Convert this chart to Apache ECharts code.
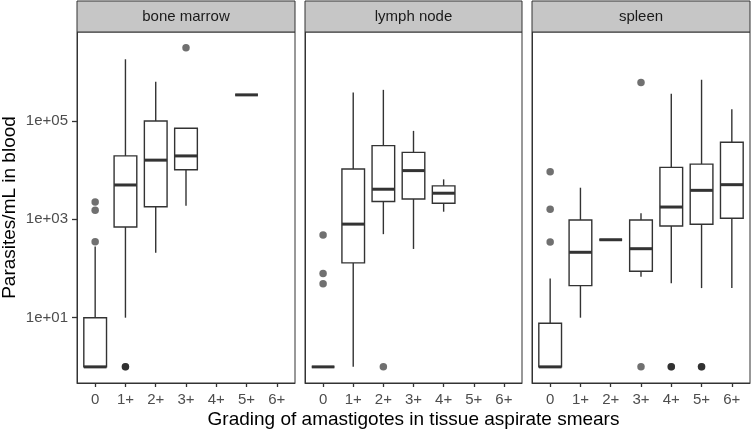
<!DOCTYPE html>
<html>
<head>
<meta charset="utf-8">
<script src="https://cdn.jsdelivr.net/npm/echarts@6/dist/echarts.min.js"></script>
<style>html,body{margin:0;padding:0;background:#fff}#c{width:752px;height:432px}</style>
</head>
<body>
<div id="c"></div>
<script>
const categories = ['0', '1+', '2+', '3+', '4+', '5+', '6+'];
const panelNames = ['bone marrow', 'lymph node', 'spleen'];
const yTickValues = [10, 1000, 100000];

// [category index, lower whisker, Q1, median, Q3, upper whisker]
const boneMarrowBoxes = [
  [0, 1, 1, 1, 10, 280],
  [1, 10, 700, 5000, 19500, 1.8e6],
  [2, 210, 1800, 16000, 100000, 630000],
  [3, 1900, 10200, 19500, 71000, 71000],
  [5, 340000, 340000, 340000, 340000, 340000]
];
const boneMarrowOutliers = [[0, 2250], [0, 1530], [0, 350], [1, 1], [1, 1], [3, 3.1e6]];

const lymphNodeBoxes = [
  [0, 1, 1, 1, 1, 1],
  [1, 1, 130, 800, 10600, 380000],
  [2, 500, 2300, 4100, 31500, 430000],
  [3, 250, 2600, 9800, 23000, 63000],
  [4, 1430, 2120, 3400, 4800, 6500]
];
const lymphNodeOutliers = [[0, 480], [0, 79], [0, 49], [2, 1]];

const spleenBoxes = [
  [0, 1, 1, 1, 7.7, 63],
  [1, 10, 45, 214, 970, 4400],
  [2, 385, 385, 385, 385, 385],
  [3, 68, 88, 253, 970, 1330],
  [4, 50, 733, 1780, 11400, 360000],
  [5, 40, 793, 3890, 13300, 690000],
  [6, 40, 1050, 5070, 36900, 173000]
];
const spleenOutliers = [[0, 9300], [0, 1600], [0, 346], [3, 610000], [3, 1], [4, 1], [4, 1], [5, 1], [5, 1]];

const allBoxes = [boneMarrowBoxes, lymphNodeBoxes, spleenBoxes];
const allOutliers = [boneMarrowOutliers, lymphNodeOutliers, spleenOutliers];

const FONT = '"Liberation Sans", Arial, sans-serif';
const panels = [
  { left: 77, width: 218 },
  { left: 305, width: 217 },
  { left: 532, width: 218 }
];
const TOP = 32, BOTTOM_Y = 383;

const lg = v => Math.log10(v);

function renderBox(params, api) {
  const x = api.value(0);
  const pLow = api.coord([x, api.value(1)]);
  const pQ1 = api.coord([x, api.value(2)]);
  const pMed = api.coord([x, api.value(3)]);
  const pQ3 = api.coord([x, api.value(4)]);
  const pHigh = api.coord([x, api.value(5)]);
  const half = api.size([0.75, 0])[0] / 2;
  const cx = pMed[0];
  const lineStyle = { stroke: '#333333', lineWidth: 1.4, fill: null };
  const children = [];
  if (pHigh[1] < pQ3[1]) children.push({ type: 'line', shape: { x1: cx, y1: pQ3[1], x2: cx, y2: pHigh[1] }, style: lineStyle });
  if (pLow[1] > pQ1[1]) children.push({ type: 'line', shape: { x1: cx, y1: pQ1[1], x2: cx, y2: pLow[1] }, style: lineStyle });
  children.push({ type: 'rect', shape: { x: cx - half, y: pQ3[1], width: half * 2, height: pQ1[1] - pQ3[1] },
    style: { fill: '#ffffff', stroke: '#333333', lineWidth: 1.4 } });
  children.push({ type: 'line', shape: { x1: cx - half, y1: pMed[1], x2: cx + half, y2: pMed[1] },
    style: { stroke: '#333333', lineWidth: 3 } });
  return { type: 'group', children };
}

const grids = [], xAxes = [], yAxes = [], series = [], graphics = [];
panels.forEach((p, i) => {
  grids.push({ left: p.left, top: TOP, width: p.width, height: BOTTOM_Y - TOP, show: true,
    borderColor: '#333333', borderWidth: 1, backgroundColor: '#ffffff', containLabel: false });
  xAxes.push({
    type: 'value', gridIndex: i, min: -0.6, max: 6.6, position: 'bottom', z: 5,
    axisLine: { show: true, onZero: false, lineStyle: { color: '#333333', width: 1 } },
    splitLine: { show: false },
    axisTick: { show: true, inside: false, length: 4, lineStyle: { color: '#333333', width: 1.3 },
      customValues: categories.map((c, k) => k) },
    axisLabel: { show: true, margin: 9, color: '#4d4d4d', fontSize: 15, fontFamily: FONT,
      customValues: categories.map((c, k) => k), formatter: v => categories[Math.round(v)] }
  });
  yAxes.push({
    type: 'value', gridIndex: i, min: -0.328, max: 6.81, position: 'left', z: 5,
    axisLine: { show: true, onZero: false, lineStyle: { color: '#333333', width: 1 } },
    splitLine: { show: false },
    axisTick: { show: i === 0, inside: false, length: 5, lineStyle: { color: '#333333', width: 1.3 },
      customValues: yTickValues.map(lg) },
    axisLabel: { show: i === 0, margin: 9, color: '#4d4d4d', fontSize: 15, fontFamily: FONT,
      customValues: yTickValues.map(lg),
      formatter: v => '1e+' + String(Math.round(v)).padStart(2, '0') }
  });
  series.push({
    type: 'custom', xAxisIndex: i, yAxisIndex: i, renderItem: renderBox,
    encode: { x: 0, y: [1, 2, 3, 4, 5] },
    data: allBoxes[i].map(b => [b[0], lg(b[1]), lg(b[2]), lg(b[3]), lg(b[4]), lg(b[5])]),
    z: 2
  });
  series.push({
    type: 'scatter', xAxisIndex: i, yAxisIndex: i, symbol: 'circle', symbolSize: 7.5,
    itemStyle: { color: '#000000', opacity: 0.56 },
    data: allOutliers[i].map(o => [o[0], lg(o[1])]),
    z: 3
  });
  graphics.push({ type: 'rect', shape: { x: p.left, y: 1, width: p.width, height: TOP - 1 },
    style: { fill: '#c6c6c6', stroke: '#333333', lineWidth: 1 }, z: 10 });
  graphics.push({ type: 'text', x: p.left + p.width / 2, y: (1 + TOP) / 2 + 0.5,
    style: { text: panelNames[i], fill: '#1a1a1a', font: '15px ' + FONT, textAlign: 'center', textVerticalAlign: 'middle' }, z: 11 });
});

graphics.push({ type: 'text', x: 10, y: (TOP + BOTTOM_Y) / 2, rotation: Math.PI / 2,
  style: { text: 'Parasites/mL in blood', fill: '#000000', font: '19px ' + FONT, textAlign: 'center', textVerticalAlign: 'middle' } });
graphics.push({ type: 'text', x: (77 + 750) / 2, y: 420,
  style: { text: 'Grading of amastigotes in tissue aspirate smears', fill: '#000000', font: '19px ' + FONT, textAlign: 'center', textVerticalAlign: 'middle' } });

const chart = echarts.init(document.getElementById('c'), null, { renderer: 'canvas' });
chart.setOption({
  backgroundColor: '#ffffff',
  animation: false,
  grid: grids, xAxis: xAxes, yAxis: yAxes, series,
  graphic: graphics
});
</script>
</body>
</html>
